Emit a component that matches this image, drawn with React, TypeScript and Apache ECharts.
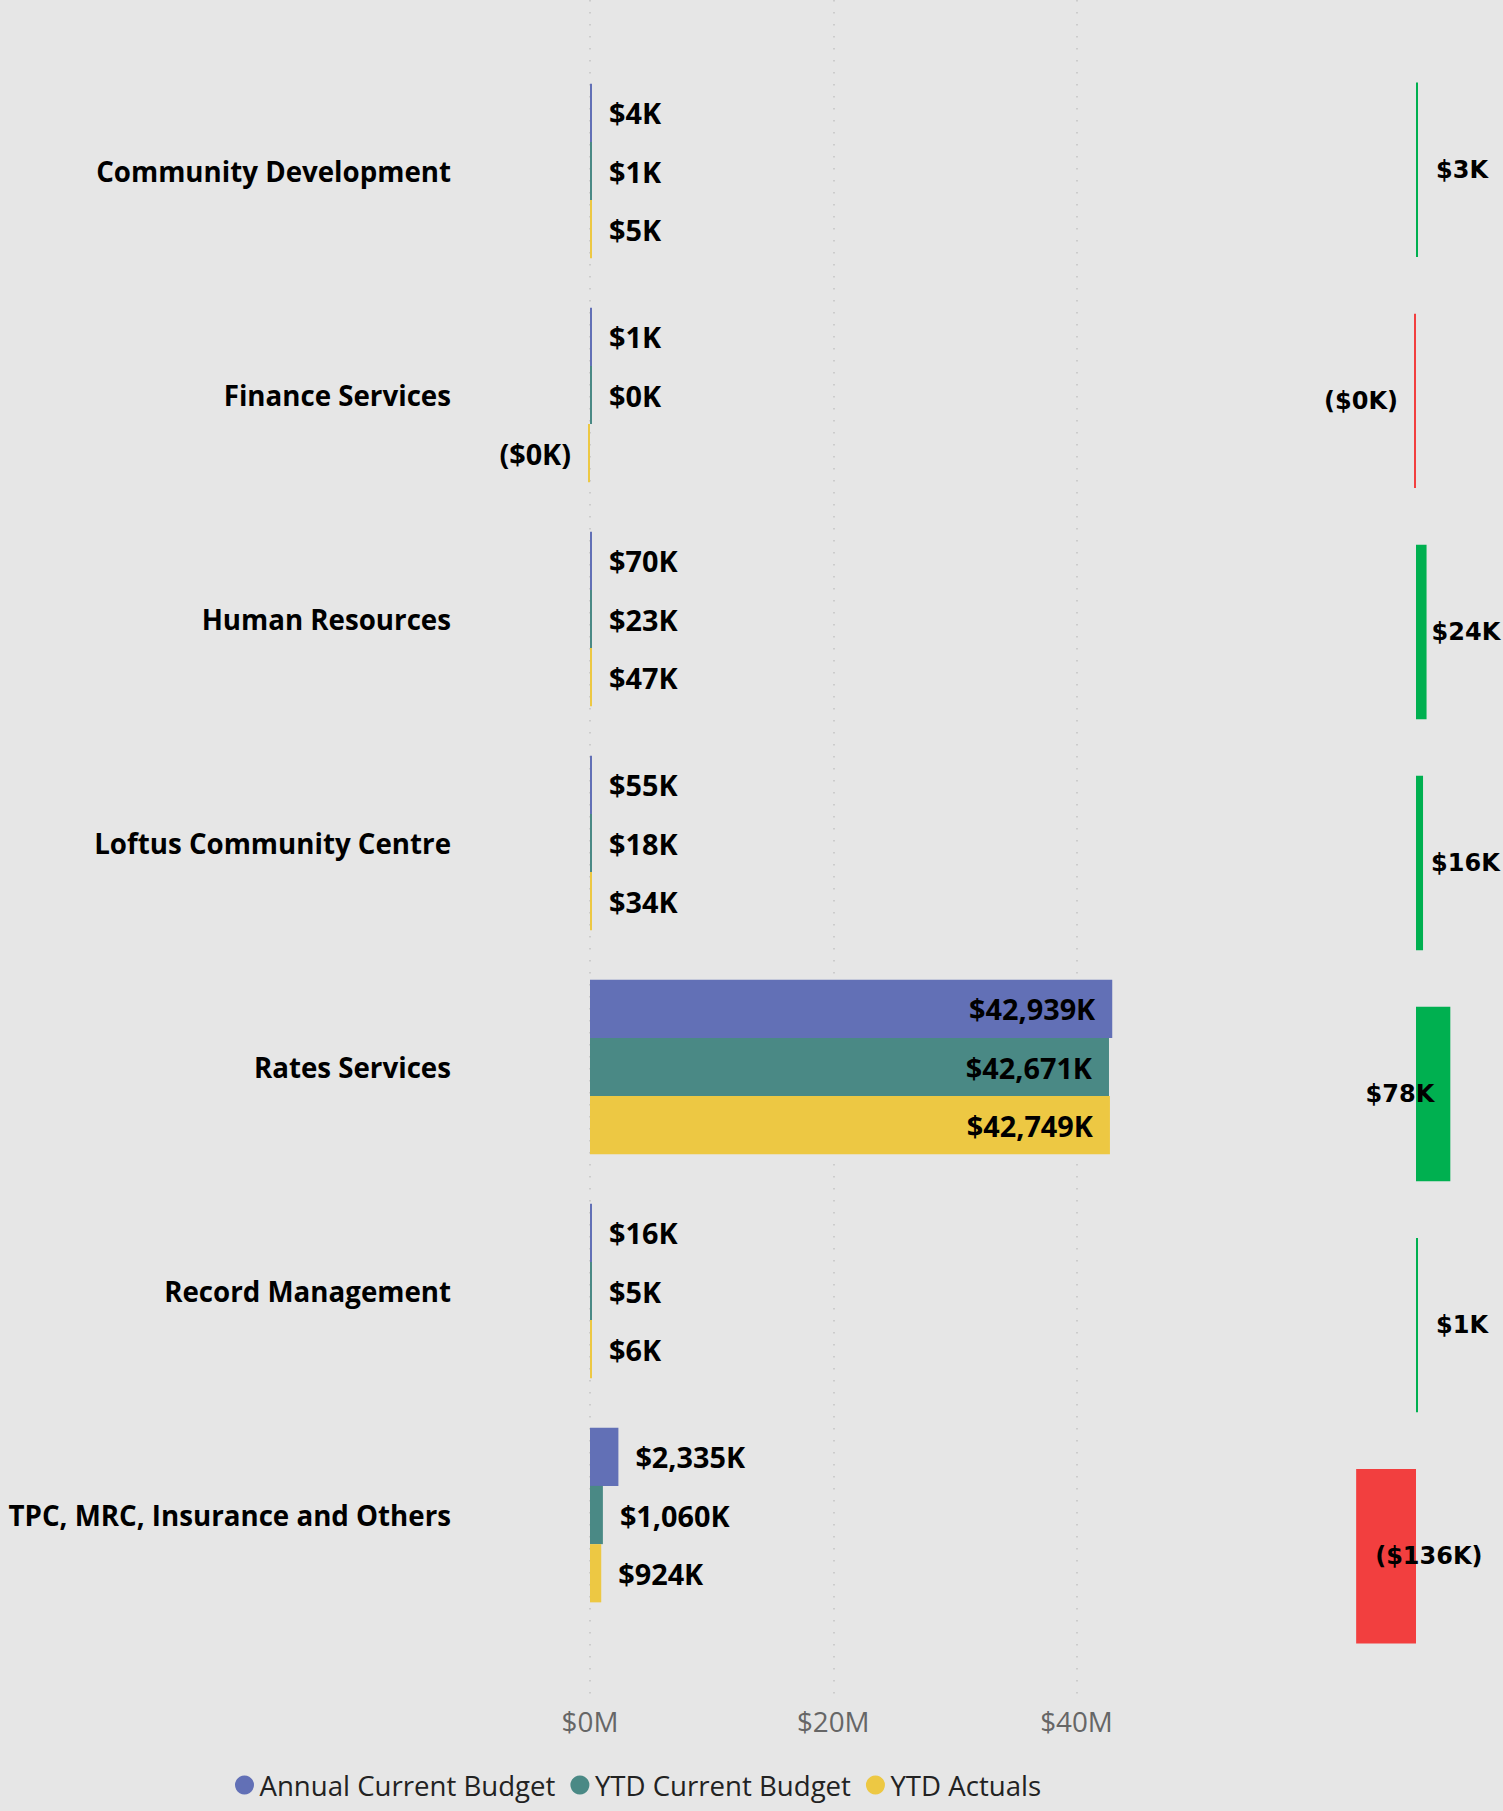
import React, { useEffect, useRef } from "react";
import * as echarts from "echarts";

// Values in $K
const categories = [
  "Community Development",
  "Finance Services",
  "Human Resources",
  "Loftus Community Centre",
  "Rates Services",
  "Record Management",
  "TPC, MRC, Insurance and Others",
];
const annualCurrentBudget = [4.2, 1.0, 70, 55, 42939, 16, 2335];
const ytdCurrentBudget = [1.4, 0.3, 23, 18, 42671, 5, 1060];
const ytdActuals = [4.6, -0.2, 47, 34, 42749, 6, 924];
const variance = [3.2, -0.4, 24, 16, 78, 1, -136];
const seriesNames = ["Annual Current Budget", "YTD Current Budget", "YTD Actuals"];
const seriesColors = ["#6270B6", "#4A8985", "#EDC843"];
const axisTickValuesK = [0, 20000, 40000];
const varianceLabelPosition = ["right", "left", "right", "right", "insideRight", "right", "insideLeft"];
const varianceLabelDistance = [18, 16, 5, 8, 16, 18, 19];

const BG = "#E6E6E6";
const UI_FONT = "'Open Sans', 'Noto Sans', sans-serif";
const LABEL_FONT = "'DejaVu Sans', Verdana, sans-serif";

function fmtK(v: number): string {
  const r = Math.round(Math.abs(v)).toLocaleString("en-US");
  return v < 0 ? `($${r}K)` : `$${r}K`;
}

export default function App() {
  const ref = useRef<HTMLDivElement>(null);
  useEffect(() => {
    if (!ref.current) return;
    const chart = echarts.init(ref.current, null, { renderer: "svg" });
    const leftData = [annualCurrentBudget, ytdCurrentBudget, ytdActuals];
    const leftSeries = leftData.map((arr, i) => ({
      type: "bar",
      name: seriesNames[i],
      xAxisIndex: 1,
      yAxisIndex: 1,
      barGap: "0%",
      barCategoryGap: "22%",
      barMinHeight: 2,
      clip: false,
      itemStyle: { color: seriesColors[i] },
      label: {
        show: true,
        distance: 17,
        formatter: (p: any) => fmtK(p.value),
        fontFamily: UI_FONT,
        fontWeight: "bold",
        fontSize: 28.8,
        color: "#000",
      },
      data: arr.map((v) => ({
        value: v,
        label: { position: v < 0 ? "left" : v > 20000 ? "insideRight" : "right" },
      })),
    }));
    const rightSeries = {
      type: "bar",
      name: "Variance",
      xAxisIndex: 2,
      yAxisIndex: 2,
      barCategoryGap: "24.5%",
      barMinHeight: 2,
      clip: false,
      label: {
        show: true,
        formatter: (p: any) => fmtK(p.value),
        fontFamily: LABEL_FONT,
        fontWeight: "bold",
        fontSize: 24,
        color: "#000",
      },
      data: variance.map((v, i) => ({
        value: v,
        itemStyle: { color: v < 0 ? "#F23F3F" : "#00B050" },
        label: { position: varianceLabelPosition[i], distance: varianceLabelDistance[i] },
      })),
    };
    chart.setOption({
      animation: false,
      backgroundColor: BG,
      textStyle: { fontFamily: UI_FONT },
      legend: {
        data: seriesNames,
        icon: "circle",
        left: 235,
        top: 1771,
        padding: 0,
        itemWidth: 20,
        itemHeight: 19,
        itemGap: 15,
        textStyle: { fontFamily: UI_FONT, fontSize: 27.6, color: "#222", padding: [0, 0, 0, 0] },
      },
      grid: [
        { left: 590, width: 486.5, top: 0, height: 1698 },
        { left: 590, width: 486.5, top: 59, height: 1568 },
        { left: 1288.4, width: 211.2, top: 54.3, height: 1617.4 },
      ],
      xAxis: [
        {
          type: "value",
          gridIndex: 0,
          min: axisTickValuesK[0],
          max: axisTickValuesK[axisTickValuesK.length - 1],
          interval: axisTickValuesK[1] - axisTickValuesK[0],
          axisLine: { show: false },
          axisTick: { show: false },
          axisLabel: {
            formatter: (v: number) => `$${v / 1000}M`,
            color: "#666",
            fontSize: 27.8,
            fontFamily: UI_FONT,
            margin: 9,
          },
          splitLine: { show: true, lineStyle: { color: "#C4C4C4", width: 1.5, type: [1.5, 10.5] } },
        },
        { type: "value", gridIndex: 1, min: 0, max: 40000, show: false },
        { type: "value", gridIndex: 2, min: -290, max: 190, show: false },
      ],
      yAxis: [
        { type: "value", gridIndex: 0, min: 0, max: 1, show: false },
        {
          type: "category",
          gridIndex: 1,
          inverse: true,
          data: categories,
          axisLine: { show: false },
          axisTick: { show: false },
          axisLabel: {
            margin: 139,
            fontFamily: UI_FONT,
            fontWeight: "bold",
            fontSize: 27.7,
            color: "#000",
          },
        },
        { type: "category", gridIndex: 2, inverse: true, data: categories, show: false },
      ],
      series: [...leftSeries, rightSeries],
    } as any);
    return () => chart.dispose();
  }, []);
  return (
    <div
      ref={ref}
      style={{ position: "fixed", left: 0, top: 0, width: 1503, height: 1811 }}
    />
  );
}
